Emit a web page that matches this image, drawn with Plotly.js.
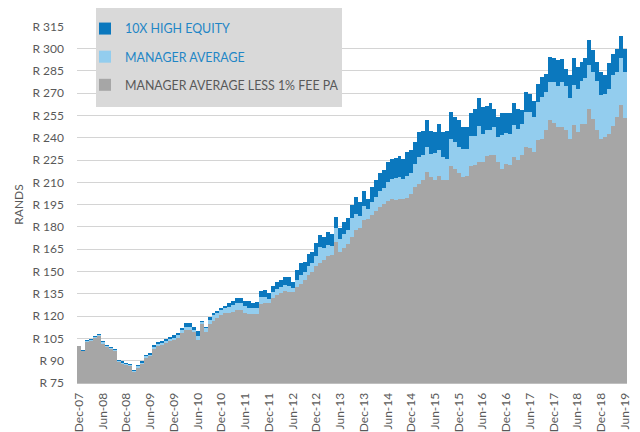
<!DOCTYPE html>
<html>
<head>
<meta charset="utf-8">
<script src="https://cdn.plot.ly/plotly-3.0.1.min.js"></script>
<style>
  html, body { margin: 0; padding: 0; background: #ffffff; }
  #chart { width: 640px; height: 432px; }
</style>
</head>
<body>
<div id="chart"></div>
<script>
// Tick labels shown on the category axis (every six months)
var tickLabels = ['Dec-07','Jun-08','Dec-08','Jun-09','Dec-09','Jun-10','Dec-10','Jun-11',
  'Dec-11','Jun-12','Dec-12','Jun-13','Dec-13','Jun-14','Dec-14','Jun-15','Dec-15','Jun-16',
  'Dec-16','Jun-17','Dec-17','Jun-18','Dec-18','Jun-19'];

// Monthly categories Dec-07 .. Jun-19
var monthNames = ['Jan','Feb','Mar','Apr','May','Jun','Jul','Aug','Sep','Oct','Nov','Dec'];
var months = [];
for (var y = 2007, mo = 11; months.length < 139; ) {
  months.push(monthNames[mo] + '-' + String(y % 100).padStart(2, '0'));
  mo++; if (mo > 11) { mo = 0; y++; }
}

// 10X High Equity (R value of R100 invested)
var tenX = [100,97,104,104.5,106.5,108,103,100.5,99.5,98,
  90.5,89.5,88.5,88,84,87,89.5,94,95,100.5,
  102.5,103,104.5,106,107,108.5,112,115.5,115.5,113,
  110,117,113,119.5,122,123.5,125.5,127,129,130,
  132.3,132,130,130,129,129.5,137,137.5,135.5,140.5,
  143,144,146,146,143,151,155.5,156.5,162,163,
  169,174.5,173.5,176.5,175.5,187,179,183.5,186,195,
  200,197,204.5,199,207,211.5,216,218.5,223.5,225.5,
  226.5,227.5,226,230.5,231.5,237,244,244.5,252,244.5,
  244,249,244,244.5,257.5,254,252,247.5,247,257,
  259.5,266.5,260.5,261.5,263.5,259.5,254,256.5,257,257,
  263.5,259.5,258.5,271,269.5,265,276.5,281,283,294.5,
  293.5,292,293,286.5,282,293.5,287.5,291,293.5,305.5,
  299,291,284.5,282.5,290,296.5,300,308.5,299.5];

// Manager average
var mgrAvg = [100,96.8,103.3,103.8,105.8,107.2,102.3,99.8,98.8,97.2,
  89.7,88.7,87.7,87.2,83.2,86.2,88.6,93,94,99.3,
  101.2,101.7,103.1,104.5,105.5,107,110.5,113,112.8,110.5,
  106.5,115.9,112.3,117.2,120.6,122.2,124.4,125.5,126.2,127.5,
  128.5,128.5,126.5,125.7,125.5,125.7,133,133,131.8,136.3,
  138.5,139.5,140.8,140.5,139,144.5,148,149.5,154,156,
  160.5,166.5,166,168,167.5,179,172,175,178,186,
  189,187.5,194,192,196.5,200,204.5,206.5,210.5,212.5,
  213,213.5,212.5,214,216,222.5,227,228.5,233.5,229,
  230,231.5,227,226,239,237,234,232.5,232.5,241.5,
  241.5,248,242.5,245,245,247,240.5,242,243,242.8,
  248.4,246.2,249.6,257.5,257.5,254,264,267.5,271,277.5,
  277.5,274.5,277.5,274.5,266.5,275.5,273,278.5,280,289,
  284,278,268.5,269.5,273,282,284.5,293.5,284.5];

// Manager average less 1% fee pa
var mgrLessFee = [100,96.6,102.6,103.1,105,106.3,101.5,99,98,96.4,
  88.9,87.9,86.9,86.4,82.4,85.3,87.7,92,93,98.1,
  100,100.4,101.7,103.1,104,105.3,108.5,110.5,110.5,109,
  104,115,109.5,115,117,119,121,122,122,122.5,
  124,124,122,121.7,121.5,121.7,128,128.5,128.5,132,
  134.5,135.5,137,136.5,136,139.5,141.5,144,147.5,150,
  153.5,155.5,158,160.5,161,170,163,166,168.5,173.5,
  178,179,185,185.5,188,191,193.5,195.5,197.5,198.5,
  198,198.5,199,199.5,202.3,206.8,209,211.7,217,213.5,
  211.7,214.6,211.3,211.3,220.7,219.1,216,213.5,214.6,220.7,
  222,223.6,223.6,227.4,228.1,228.1,223.6,219.1,222.5,221.5,
  227.1,224.8,228.2,233.8,233,230.5,238.3,239.5,245,251.8,
  250,247.3,247.5,245,239.5,248.4,243.9,249.5,249.5,259.6,
  252.9,245,239.5,240.6,242.8,248,254,261.9,253];

var seriesNames = ['10X HIGH EQUITY', 'MANAGER AVERAGE', 'MANAGER AVERAGE LESS 1% FEE PA'];

var FONT = 'Lato, "Open Sans", sans-serif';

function barTrace(vals, name, color, label) {
  return {
    type: 'bar', x: months, y: vals, name: label, legendgroup: name,
    marker: { color: color, line: { width: 0 } },
    width: 1, hoverinfo: 'x+y'
  };
}

var data = [
  barTrace(tenX, seriesNames[0], '#0B78BE', '<span style="color:#1F86C6">' + seriesNames[0] + '</span>'),
  barTrace(mgrAvg, seriesNames[1], '#93CDEE', '<span style="color:#1F86C6">' + seriesNames[1] + '</span>'),
  barTrace(mgrLessFee, seriesNames[2], '#A6A6A6', seriesNames[2])
];

var L = 77, R = 627, T = 26, B = 383;
function px2x(p) { return (p - L) / (R - L); }
function px2y(p) { return (B - p) / (B - T); }

var layout = {
  width: 640, height: 432,
  margin: { l: L, r: 640 - R, t: T, b: 432 - B, autoexpand: false },
  paper_bgcolor: '#ffffff', plot_bgcolor: '#ffffff',
  barmode: 'overlay', bargap: 0,
  font: { family: FONT, size: 12, color: '#595959' },
  showlegend: true,
  legend: {
    x: px2x(85), y: px2y(14), xanchor: 'left', yanchor: 'top',
    bgcolor: 'rgba(0,0,0,0)', borderwidth: 0,
    font: { family: FONT, size: 12.4, color: '#595959' },
    tracegroupgap: 9, traceorder: 'grouped'
  },
  xaxis: {
    type: 'category', range: [-0.5, 138.5], automargin: false,
    tickmode: 'array', tickvals: tickLabels, ticktext: tickLabels,
    tickangle: -90, ticks: '', ticklabelstandoff: 4,
    showgrid: false, showline: true, linecolor: '#BFBFBF', linewidth: 1,
    tickfont: { family: FONT, size: 12, color: '#595959' },
    fixedrange: true
  },
  yaxis: {
    range: [75, 315.2], tick0: 75, dtick: 15, tickprefix: 'R ', automargin: false,
    showgrid: true, gridcolor: '#D4D4D4', gridwidth: 1,
    zeroline: false, showline: false, ticks: '', ticklabelstandoff: 12,
    tickfont: { family: FONT, size: 12, color: '#595959' },
    title: { text: 'RANDS', font: { family: FONT, size: 12, color: '#595959' }, standoff: 6 },
    fixedrange: true
  },
  shapes: [{
    type: 'rect', xref: 'paper', yref: 'paper', layer: 'above',
    x0: px2x(96), x1: px2x(342), y0: px2y(107), y1: px2y(8),
    fillcolor: '#D9D9D9', line: { width: 0 }
  }]
};

Plotly.newPlot('chart', data, layout, { displayModeBar: false, staticPlot: true });
</script>
</body>
</html>
